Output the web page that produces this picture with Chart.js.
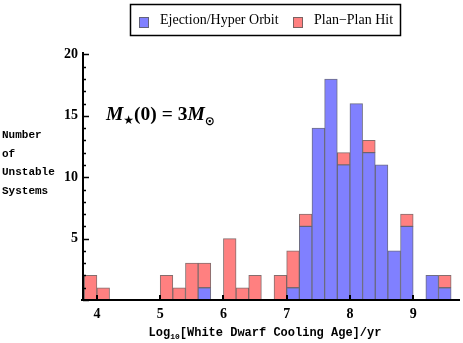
<!DOCTYPE html>
<html>
<head>
<meta charset="utf-8">
<script src="https://cdn.jsdelivr.net/npm/chart.js@4.4.1/dist/chart.umd.min.js"></script>
<style>
  body { margin: 0; background: #fff; }
  #wrap { width: 463px; height: 343px; }
</style>
</head>
<body>
<div id="wrap"><canvas id="ageChart" width="463" height="343"></canvas></div>
<script>
// bin centres (bins are 0.2 dex wide)
const binCentres = [3.9, 4.1, 4.3, 4.5, 4.7, 4.9, 5.1, 5.3, 5.5, 5.7, 5.9, 6.1, 6.3, 6.5, 6.7,
  6.9, 7.1, 7.3, 7.5, 7.7, 7.9, 8.1, 8.3, 8.5, 8.7, 8.9, 9.1, 9.3, 9.5];
const ejection = [0, 0, 0, 0, 0, 0, 0, 0, 0, 1, 0, 0, 0, 0, 0,
  0, 1, 6, 14, 18, 11, 16, 12, 11, 4, 6, 0, 2, 1];
const planHit = [2, 1, 0, 0, 0, 0, 2, 1, 3, 2, 0, 5, 1, 2, 0,
  2, 3, 1, 0, 0, 1, 0, 1, 0, 0, 1, 0, 0, 1];
const xTicks = [4, 5, 6, 7, 8, 9];
const yTicks = [5, 10, 15, 20];
const seriesNames = ['Ejection/Hyper Orbit', 'Plan\u2212Plan Hit'];
const seriesColors = ['rgb(128,128,255)', 'rgb(255,128,128)'];

const serif = '"Liberation Serif", "Times New Roman", serif';
const mono = '"Liberation Mono", "Courier New", monospace';

const toPoints = arr => arr.map((v, i) => ({ x: binCentres[i], y: v }));

const decor = {
  id: 'decor',
  afterDraw(chart) {
    const ctx = chart.ctx;
    const xs = chart.scales.x, ys = chart.scales.y;
    const area = chart.chartArea;
    ctx.save();
    ctx.strokeStyle = '#000';
    ctx.fillStyle = '#000';

    // axes
    ctx.lineWidth = 2;
    ctx.beginPath();
    ctx.moveTo(area.left, area.top);
    ctx.lineTo(area.left, area.bottom + 1);
    ctx.moveTo(area.left - 2, area.bottom);
    ctx.lineTo(area.right, area.bottom);
    ctx.stroke();

    // y ticks, every unit, longer at the labelled ones
    ctx.lineWidth = 1.5;
    for (let v = 0; v <= 20; v++) {
      const py = Math.round(ys.getPixelForValue(v)) + 0.5;
      const len = v % 5 === 0 ? 6 : 3;
      ctx.beginPath();
      ctx.moveTo(area.left, py);
      ctx.lineTo(area.left + len, py);
      ctx.stroke();
    }
    // x ticks
    ctx.lineWidth = 2;
    xTicks.forEach(v => {
      const px = Math.round(xs.getPixelForValue(v));
      ctx.beginPath();
      ctx.moveTo(px, area.bottom);
      ctx.lineTo(px, area.bottom - 5);
      ctx.stroke();
    });

    // legend
    ctx.lineWidth = 1.5;
    ctx.strokeRect(130.5, 4.5, 270, 31);
    ctx.font = '14px ' + serif;
    ctx.textBaseline = 'middle';
    const items = [[139, 160], [293, 314]];
    items.forEach((it, i) => {
      ctx.fillStyle = seriesColors[i];
      ctx.fillRect(it[0], 17, 10, 11);
      ctx.strokeStyle = 'rgba(90,90,90,0.8)';
      ctx.lineWidth = 1;
      ctx.strokeRect(it[0] + 0.5, 17.5, 9, 10);
      ctx.fillStyle = '#000';
      ctx.fillText(seriesNames[i], it[1], 20);
    });

    // y title
    ctx.font = 'bold 11px ' + mono;
    ctx.textBaseline = 'alphabetic';
    ctx.textAlign = 'left';
    ['Number', 'of', 'Unstable', 'Systems'].forEach((s, i) => {
      ctx.fillText(s, 2, 138 + i * 18.5);
    });

    // x title
    const big = 'bold 12px ' + mono, small = 'bold 8px ' + mono;
    const parts = [['Log', big, 0], ['10', small, 3], ['[White Dwarf Cooling Age]/yr', big, 0]];
    let w = 0;
    parts.forEach(p => { ctx.font = p[1]; w += ctx.measureText(p[0]).width; });
    let x0 = 265 - w / 2;
    parts.forEach(p => {
      ctx.font = p[1];
      ctx.fillText(p[0], x0, 336 + p[2]);
      x0 += ctx.measureText(p[0]).width;
    });

    // annotation M*(0) = 3 M_sun
    const it = 'italic bold 19.5px ' + serif, up = 'bold 19.5px ' + serif;
    const sub = 'bold 12px "DejaVu Sans", sans-serif';
    const ann = [['M', it, 0], ['\u2605', sub, 4], ['(0) = 3', up, 0], ['M', it, 0], ['\u2299', sub, 5]];
    let ax = 106;
    ann.forEach(p => {
      ctx.font = p[1];
      ctx.fillText(p[0], ax, 120 + p[2]);
      ax += ctx.measureText(p[0]).width;
    });
    ctx.restore();
  }
};

new Chart(document.getElementById('ageChart'), {
  type: 'bar',
  data: {
    datasets: [
      { label: seriesNames[0], data: toPoints(ejection), backgroundColor: seriesColors[0],
        borderColor: 'rgba(85,85,110,0.85)', borderWidth: 1, borderSkipped: false },
      { label: seriesNames[1], data: toPoints(planHit), backgroundColor: seriesColors[1],
        borderColor: 'rgba(110,85,85,0.85)', borderWidth: 1, borderSkipped: false }
    ]
  },
  options: {
    responsive: false,
    devicePixelRatio: 1,
    animation: false,
    barPercentage: 1,
    categoryPercentage: 1,
    layout: { padding: { left: 0, right: 3, top: 52, bottom: 0 } },
    plugins: { legend: { display: false }, tooltip: { enabled: false } },
    scales: {
      x: {
        type: 'linear', stacked: true, offset: false, min: 3.78, max: 9.74,
        afterFit: s => { s.height = 43; },
        afterBuildTicks: s => { s.ticks = xTicks.map(v => ({ value: v })); },
        grid: { display: false, drawTicks: false },
        border: { display: false },
        ticks: { padding: 6, color: '#000', font: { family: serif, size: 14, weight: 'bold' } }
      },
      y: {
        stacked: true, min: 0, max: 20.2,
        afterFit: s => { s.width = 83; },
        afterBuildTicks: s => { s.ticks = yTicks.map(v => ({ value: v })); },
        grid: { display: false, drawTicks: false },
        border: { display: false },
        ticks: { padding: 5, color: '#000', font: { family: serif, size: 14, weight: 'bold' } }
      }
    }
  },
  plugins: [decor]
});
</script>
</body>
</html>
